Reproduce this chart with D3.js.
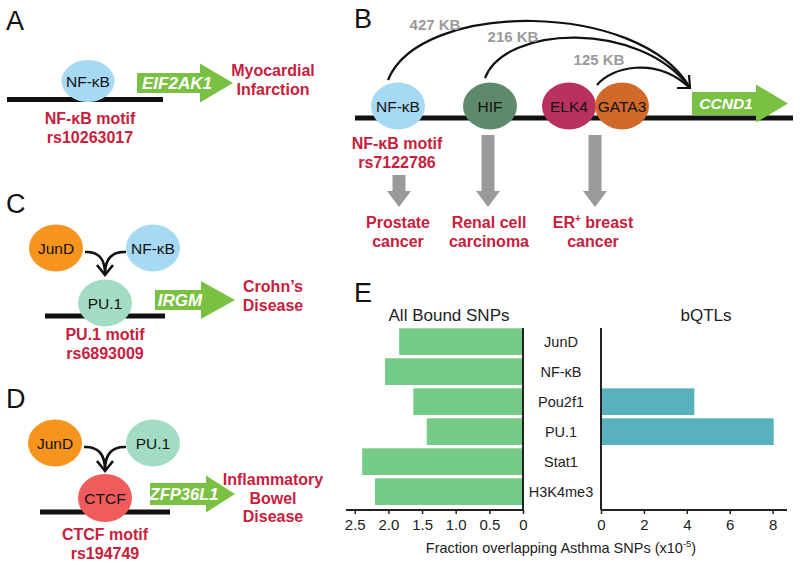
<!DOCTYPE html>
<html><head><meta charset="utf-8">
<script src="https://cdn.jsdelivr.net/npm/d3@7/dist/d3.min.js"></script>
<style>
html,body{margin:0;padding:0;background:#fff;}
svg{display:block;font-family:"Liberation Sans",Arial,Helvetica,sans-serif;}
</style></head>
<body>
<svg id="fig" width="800" height="567"></svg>
<script>
// ---------- Panel E data ----------
const categories = ["JunD", "NF-κB", "Pou2f1", "PU.1", "Stat1", "H3K4me3"];
const allBoundValues = [1.84, 2.05, 1.63, 1.43, 2.39, 2.20];
const bqtlValues = [0, 0, 4.35, 8.05, 0, 0];
const leftTicks = [2.5, 2.0, 1.5, 1.0, 0.5, 0];
const leftTickLabels = ["2.5", "2.0", "1.5", "1.0", "0.5", "0"];
const rightTicks = [0, 2, 4, 6, 8];
const rightTickLabels = ["0", "2", "4", "6", "8"];
const panelTitles = ["All Bound SNPs", "bQTLs"];

// ---------- Diagram text data ----------
const panelLetters = ["A", "B", "C", "D", "E"];
const distanceLabels = ["427 KB", "216 KB", "125 KB"];
const bFactors = ["NF-κB", "HIF", "ELK4", "GATA3"];
const bDiseases = [["Prostate", "cancer"], ["Renal cell", "carcinoma"], ["ER+ breast", "cancer"]];

const RED = "#c8203c", GREEN = "#7ac143", GRAY = "#9a9a9a";
const COL = {"NF-κB": "#a6d9f3", "HIF": "#5d8a6b", "ELK4": "#b9315f", "GATA3": "#d1692b",
             "JunD": "#f7941e", "PU.1": "#a2dcc2", "CTCF": "#f05b5b"};

const svg = d3.select("#fig");

function txt(g, x, y, s, o = {}) {
  return g.append("text").attr("x", x).attr("y", y)
    .attr("text-anchor", o.anchor || "middle")
    .attr("font-size", o.size || 15)
    .attr("font-weight", o.weight || "normal")
    .attr("font-style", o.style || "normal")
    .attr("fill", o.fill || "#111").text(s);
}
function redLines(g, x, y0, lines, dy = 18.5) {
  lines.forEach((l, i) => {
    if (l.includes("+")) {
      const parts = l.split("+");
      const t = g.append("text").attr("x", x).attr("y", y0 + i * dy).attr("text-anchor", "middle")
        .attr("font-size", 16).attr("font-weight", "bold").attr("fill", RED);
      t.append("tspan").text(parts[0]);
      t.append("tspan").attr("font-size", 10).attr("dy", -6).text("+");
      t.append("tspan").attr("dy", 6).text(parts[1]);
    } else {
      txt(g, x, y0 + i * dy, l, {size: 16, weight: "bold", fill: RED});
    }
  });
}
function dnaLine(g, x0, x1, y) {
  g.append("line").attr("x1", x0).attr("x2", x1).attr("y1", y).attr("y2", y)
    .attr("stroke", "#111").attr("stroke-width", 5);
}
function factor(g, cx, cy, label, rx = 27, ry = 23) {
  g.append("ellipse").attr("cx", cx).attr("cy", cy).attr("rx", rx).attr("ry", ry).attr("fill", COL[label]);
  txt(g, cx, cy + 5.5, label, {size: 15.5});
}
function geneArrow(g, x0, xb, xt, ym, bh, hh, label, tx, fs) {
  const p = d3.path();
  p.moveTo(x0, ym - bh / 2); p.lineTo(xb, ym - bh / 2); p.lineTo(xb, ym - hh / 2);
  p.lineTo(xt, ym); p.lineTo(xb, ym + hh / 2); p.lineTo(xb, ym + bh / 2);
  p.lineTo(x0, ym + bh / 2); p.closePath();
  g.append("path").attr("d", p.toString()).attr("fill", GREEN);
  txt(g, tx, ym + fs * 0.36, label, {size: fs, weight: "bold", style: "italic", fill: "#fff"});
}
function grayArrow(g, x, y0, yb, yt) {
  const p = d3.path(), sw = 13, hw = 24;
  p.moveTo(x - sw / 2, y0); p.lineTo(x + sw / 2, y0); p.lineTo(x + sw / 2, yb);
  p.lineTo(x + hw / 2, yb); p.lineTo(x, yt); p.lineTo(x - hw / 2, yb); p.lineTo(x - sw / 2, yb); p.closePath();
  g.append("path").attr("d", p.toString()).attr("fill", GRAY);
}
function convergeArrow(g, xl, xr, y0, xm, ytip) {
  const paths = [];
  [xl, xr].forEach(x => {
    const p = d3.path(); p.moveTo(x, y0); p.quadraticCurveTo(xm, y0 - 1, xm, ytip);
    paths.push(p.toString());
  });
  const h = d3.path(); h.moveTo(xm - 8, ytip - 9); h.lineTo(xm, ytip + 1); h.lineTo(xm + 8, ytip - 9);
  paths.push(h.toString());
  paths.forEach(d => g.append("path").attr("d", d).attr("fill", "none")
    .attr("stroke", "#111").attr("stroke-width", 2.6));
}

// ---------- Panel letters ----------
const letterPos = [[6, 30], [354, 28], [6, 213], [6, 408], [354, 302]];
panelLetters.forEach((L, i) => txt(svg, letterPos[i][0], letterPos[i][1], L, {size: 27, anchor: "start"}));

// ---------- Panel A ----------
const gA = svg.append("g");
dnaLine(gA, 7, 163, 99.5);
factor(gA, 88, 81, "NF-κB", 26.5, 21);
geneArrow(gA, 137, 200, 233, 83, 20, 39, "EIF2AK1", 177, 17);
redLines(gA, 273, 76, ["Myocardial", "Infarction"]);
redLines(gA, 90, 124, ["NF-κB motif", "rs10263017"]);

// ---------- Panel B ----------
const gB = svg.append("g");
dnaLine(gB, 355, 793, 118);
geneArrow(gB, 692, 756, 788, 103.5, 23, 38, "CCND1", 726, 15.5);
const bPos = {"NF-κB": 398, "HIF": 490, "ELK4": 569, "GATA3": 622};
bFactors.forEach(f => factor(gB, bPos[f], 106, f, 27, 23.5));
// looping arcs to CCND1
const tip = [690, 88];
const arcs = [
  [[388, 80], [420, 0], [640, 0]],
  [[485, 78], [505, 25], [640, 20]],
  [[597, 85], [610, 68], [655, 55]]
];
arcs.forEach(a => {
  const p = d3.path(); p.moveTo(a[0][0], a[0][1]);
  p.bezierCurveTo(a[1][0], a[1][1], a[2][0], a[2][1], tip[0], tip[1]);
  gB.append("path").attr("d", p.toString()).attr("fill", "none").attr("stroke", "#111").attr("stroke-width", 2.2);
});
gB.append("path").attr("d", `M${tip[0] - 13},${tip[1]} L${tip[0]},${tip[1]} L${tip[0] - 1},${tip[1] - 13}`)
  .attr("fill", "none").attr("stroke", "#111").attr("stroke-width", 2.2);
const distPos = [[435, 30], [513, 42], [599, 65]];
distanceLabels.forEach((d, i) => txt(gB, distPos[i][0], distPos[i][1], d, {size: 15, weight: "bold", fill: GRAY}));
redLines(gB, 397, 149, ["NF-κB motif", "rs7122786"]);
grayArrow(gB, 399, 175, 191, 207);
grayArrow(gB, 488, 135, 191, 207);
grayArrow(gB, 595, 135, 191, 207);
const disX = [398, 489, 593];
bDiseases.forEach((d, i) => redLines(gB, disX[i], 228, d));

// ---------- Panel C ----------
const gC = svg.append("g");
factor(gC, 56, 248, "JunD", 27, 23.5);
factor(gC, 153, 248, "NF-κB", 27, 23.5);
convergeArrow(gC, 85, 126, 252, 105, 274);
dnaLine(gC, 45, 165, 316);
factor(gC, 105, 303, "PU.1", 27, 23.5);
geneArrow(gC, 155, 201, 235, 300, 20, 38, "IRGM", 180, 17);
redLines(gC, 273, 292, ["Crohn’s", "Disease"]);
redLines(gC, 105, 340, ["PU.1 motif", "rs6893009"]);

// ---------- Panel D ----------
const gD = svg.append("g");
factor(gD, 55, 443, "JunD", 27, 23.5);
factor(gD, 153, 443, "PU.1", 27, 23.5);
convergeArrow(gD, 84, 126, 447, 105, 470);
dnaLine(gD, 40, 170, 512);
factor(gD, 105, 498, "CTCF", 27, 24);
geneArrow(gD, 150, 206, 235, 494, 22, 37, "ZFP36L1", 184, 16.5);
redLines(gD, 273, 485, ["Inflammatory", "Bowel", "Disease"]);
redLines(gD, 105, 540, ["CTCF motif", "rs194749"]);

// ---------- Panel E ----------
const gE = svg.append("g");
const axisY = 510;
const y = d3.scaleBand().domain(categories).range([326.65, 506.65]).paddingInner(0.11).paddingOuter(0.055);
const xL = d3.scaleLinear().domain([0, 2.63]).range([523, 346]);
const xR = d3.scaleLinear().domain([0, 8.67]).range([601, 787]);

gE.selectAll("rect.all").data(categories).join("rect").attr("class", "all")
  .attr("x", (d, i) => xL(allBoundValues[i])).attr("y", d => y(d))
  .attr("width", (d, i) => xL(0) - xL(allBoundValues[i])).attr("height", y.bandwidth())
  .attr("fill", "#74cb85");
gE.selectAll("rect.bq").data(categories).join("rect").attr("class", "bq")
  .attr("x", xR(0)).attr("y", d => y(d))
  .attr("width", (d, i) => xR(bqtlValues[i]) - xR(0)).attr("height", y.bandwidth())
  .attr("fill", "#5ab1be");

const axL = d3.axisBottom(xL).tickValues(leftTicks).tickSize(4).tickPadding(5)
  .tickFormat((d, i) => leftTickLabels[i]);
const axR = d3.axisBottom(xR).tickValues(rightTicks).tickSize(4).tickPadding(5)
  .tickFormat((d, i) => rightTickLabels[i]);
[axL, axR].forEach(ax => {
  const a = gE.append("g").attr("transform", `translate(0,${axisY})`).call(ax);
  a.select(".domain").remove();
  a.selectAll(".tick line").attr("stroke", "#222").attr("stroke-width", 1.5);
  a.selectAll(".tick text").attr("font-size", 15).attr("fill", "#222")
    .attr("font-family", "Liberation Sans, Arial, sans-serif");
});
gE.append("line").attr("x1", xL.range()[1]).attr("x2", xL(0)).attr("y1", axisY).attr("y2", axisY).attr("stroke", "#222").attr("stroke-width", 2);
gE.append("line").attr("x1", xR(0)).attr("x2", xR.range()[1]).attr("y1", axisY).attr("y2", axisY).attr("stroke", "#222").attr("stroke-width", 2);
gE.append("line").attr("x1", xL(0)).attr("x2", xL(0)).attr("y1", 328).attr("y2", axisY).attr("stroke", "#222").attr("stroke-width", 2);
gE.append("line").attr("x1", xR(0)).attr("x2", xR(0)).attr("y1", 328).attr("y2", axisY).attr("stroke", "#222").attr("stroke-width", 2);

categories.forEach(c => txt(gE, 561, y(c) + y.bandwidth() / 2 + 5, c, {size: 14.5, fill: "#222"}));
txt(gE, 449, 321, panelTitles[0], {size: 17, fill: "#222"});
txt(gE, 706, 321, panelTitles[1], {size: 17, fill: "#222"});
const at = gE.append("text").attr("x", 561).attr("y", 553).attr("text-anchor", "middle")
  .attr("font-size", 14.5).attr("fill", "#222");
at.append("tspan").text("Fraction overlapping Asthma SNPs (x10");
at.append("tspan").attr("font-size", 9.5).attr("dy", -6).text("-5");
at.append("tspan").attr("dy", 6).text(")");
</script>
</body></html>
